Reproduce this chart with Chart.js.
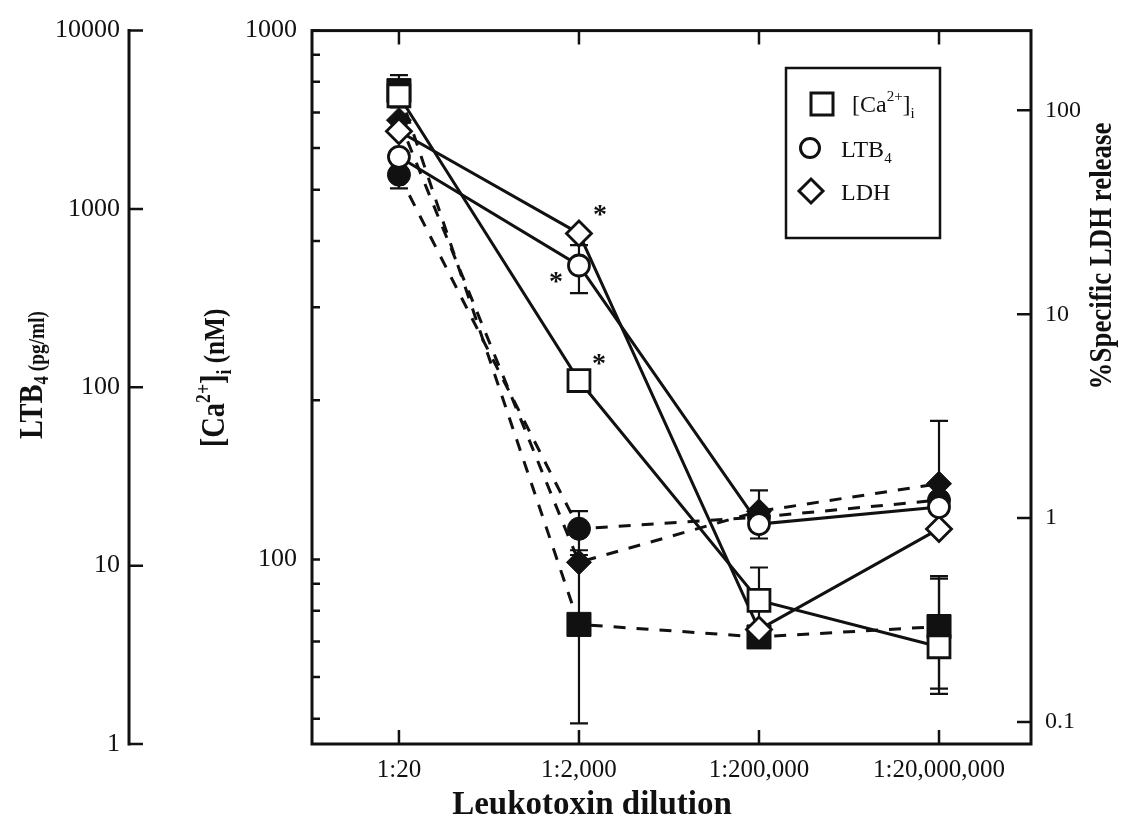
<!DOCTYPE html>
<html>
<head>
<meta charset="utf-8">
<title>Leukotoxin dilution</title>
<script src="https://cdn.jsdelivr.net/npm/chart.js@4.4.1/dist/chart.umd.min.js"></script>
<style>
  html, body { margin: 0; background: #fff; }
  #box { width: 1127px; height: 832px; }
</style>
</head>
<body>
<div id="box"><canvas id="chart" width="1127" height="832"></canvas></div>
<script>
// x categories
const dilutions = ["1:20", "1:2,000", "1:200,000", "1:20,000,000"];

// [Ca2+]i (nM) - open squares: leukotoxin, filled squares: control
const caLtx   = [753, 218, 83.7, 68.4];
const caLtxLo = [null, null, 70, 55.7];
const caLtxHi = [null, null, 96.6, 93];
const caCtl   = [770, 75.4, 71.4, 74.7];
const caCtlLo = [716, 49, null, 57];
const caCtlHi = [824, 102, null, 92];

// LTB4 (pg/ml)
const ltbLtx   = [1960, 482, 17.1, 21.3];
const ltbLtxLo = [null, 337, null, null];
const ltbLtxHi = [null, 627, null, null];
const ltbCtl   = [1556, 16.1, 18.7, 23.3];
const ltbCtlLo = [1303, 12.2, 14.2, null];
const ltbCtlHi = [1806, 20.2, 26.4, null];

// % specific LDH release
const ldhLtx   = [79, 24.9, 0.284, 0.885];
const ldhCtl   = [89.5, 0.607, 1.08, 1.475];
const ldhCtlLo = [null, null, null, 0.9];
const ldhCtlHi = [null, null, null, 3.0];

// axis ticks
const ltbTicks = [1, 10, 100, 1000, 10000];
const caTicks  = [50, 60, 70, 80, 90, 100, 200, 300, 400, 500, 600, 700, 800, 900, 1000];
const caLabels = [100, 1000];
const ldhTicks = [0.1, 1, 10, 100];

const ink = "#111";
const serif = "'Liberation Serif', 'DejaVu Serif', serif";
const pts = arr => arr.map((y, i) => ({ x: i, y }));

function series(label, data, axis, style, filled, r) {
  return {
    label, data: pts(data), yAxisID: axis,
    borderColor: ink, borderWidth: 3, borderDash: filled ? [12, 11] : [],
    pointStyle: style, pointRadius: r, pointBorderWidth: filled ? 1 : 2.8,
    pointBackgroundColor: filled ? ink : "#fff", pointBorderColor: ink,
    tension: 0, fill: false
  };
}

// error bars: [axis, values, lo, hi]
const errSets = [
  ["ca", caLtx, caLtxLo, caLtxHi], ["ca", caCtl, caCtlLo, caCtlHi],
  ["ltb", ltbLtx, ltbLtxLo, ltbLtxHi], ["ltb", ltbCtl, ltbCtlLo, ltbCtlHi],
  ["ldh", ldhCtl, ldhCtlLo, ldhCtlHi]
];

function richText(ctx, parts, cx, cy, angle, squeeze) {
  ctx.save();
  ctx.translate(cx, cy); ctx.rotate(angle); ctx.scale(squeeze, 1);
  ctx.fillStyle = ink; ctx.textAlign = "left"; ctx.textBaseline = "alphabetic";
  let w = 0;
  parts.forEach(p => { ctx.font = `bold ${p.size}px ${serif}`; p.w = ctx.measureText(p.t).width; w += p.w; });
  let x = -w / 2;
  parts.forEach(p => { ctx.font = `bold ${p.size}px ${serif}`; ctx.fillText(p.t, x, p.dy); x += p.w; });
  ctx.restore();
}

function marker(ctx, style, x, y, r) {
  ctx.beginPath();
  if (style === "rect") ctx.rect(x - r, y - r, 2 * r, 2 * r);
  else if (style === "circle") ctx.arc(x, y, r, 0, Math.PI * 2);
  else { ctx.moveTo(x, y - r); ctx.lineTo(x + r, y); ctx.lineTo(x, y + r); ctx.lineTo(x - r, y); ctx.closePath(); }
  ctx.fillStyle = "#fff"; ctx.fill();
  ctx.lineWidth = 3; ctx.strokeStyle = ink; ctx.stroke();
}

const errorBars = {
  id: "errorBars",
  beforeDatasetsDraw(chart) {
    const { ctx, scales } = chart;
    ctx.save();
    ctx.strokeStyle = ink; ctx.lineWidth = 2.2;
    errSets.forEach(([axis, vals, lo, hi]) => {
      const ys = scales[axis];
      vals.forEach((v, i) => {
        const x = scales.x.getPixelForValue(i);
        const y0 = ys.getPixelForValue(v);
        [lo[i], hi[i]].forEach(e => {
          if (e == null) return;
          const y1 = ys.getPixelForValue(e);
          ctx.beginPath(); ctx.moveTo(x, y0); ctx.lineTo(x, y1);
          ctx.moveTo(x - 9, y1); ctx.lineTo(x + 9, y1); ctx.stroke();
        });
      });
    });
    ctx.restore();
  }
};

const frame = {
  id: "frame",
  afterDraw(chart) {
    const { ctx, chartArea: a, scales } = chart;
    const ltb = scales.ltb;
    ctx.save();
    ctx.strokeStyle = ink; ctx.lineCap = "square";
    // plot box + outer LTB4 axis
    ctx.lineWidth = 3;
    ctx.strokeRect(a.left, a.top, a.right - a.left, a.bottom - a.top);
    ctx.beginPath(); ctx.moveTo(ltb.right, a.top); ctx.lineTo(ltb.right, a.bottom); ctx.stroke();
    ctx.lineCap = "butt"; ctx.lineWidth = 2.5;
    ctx.beginPath();
    dilutions.forEach((_, i) => {
      const x = scales.x.getPixelForValue(i);
      ctx.moveTo(x, a.bottom); ctx.lineTo(x, a.bottom - 14);
      ctx.moveTo(x, a.top); ctx.lineTo(x, a.top + 14);
    });
    caTicks.forEach(v => { const y = scales.ca.getPixelForValue(v); ctx.moveTo(a.left, y); ctx.lineTo(a.left + 8, y); });
    ldhTicks.forEach(v => { const y = scales.ldh.getPixelForValue(v); ctx.moveTo(a.right, y); ctx.lineTo(a.right - 14, y); });
    ltbTicks.forEach(v => { const y = ltb.getPixelForValue(v); ctx.moveTo(ltb.right, y); ctx.lineTo(ltb.right + 14, y); });
    ctx.stroke();

    // significance stars
    ctx.fillStyle = ink; ctx.font = `bold 28px ${serif}`;
    ctx.textAlign = "center"; ctx.textBaseline = "middle";
    const star = (axis, vals, i, dx, dy) =>
      ctx.fillText("*", scales.x.getPixelForValue(i) + dx, scales[axis].getPixelForValue(vals[i]) + dy);
    star("ldh", ldhLtx, 1, 21, -18);
    star("ltb", ltbLtx, 1, -23, 17);
    star("ca", caLtx, 1, 20, -16);

    // legend
    const lx = 786, ly = 68;
    ctx.lineWidth = 2.5; ctx.strokeRect(lx, ly, 154, 170);
    marker(ctx, "rect", lx + 36, ly + 36, 11);
    marker(ctx, "circle", lx + 24, ly + 80, 9.5);
    marker(ctx, "diamond", lx + 25, ly + 123, 12);
    ctx.textAlign = "left"; ctx.textBaseline = "alphabetic"; ctx.fillStyle = ink;
    const txt = (t, x, y, size) => { ctx.font = `${size}px ${serif}`; ctx.fillText(t, x, y); return x + ctx.measureText(t).width; };
    let x = txt("[Ca", lx + 66, ly + 44, 24);
    x = txt("2+", x, ly + 33, 15);
    x = txt("]", x, ly + 44, 24);
    txt("i", x, ly + 50, 15);
    x = txt("LTB", lx + 55, ly + 89, 24);
    txt("4", x, ly + 95, 15);
    txt("LDH", lx + 55, ly + 132, 24);

    // axis titles
    richText(ctx, [
      { t: "LTB", size: 34, dy: 0 }, { t: "4", size: 20, dy: 6 }, { t: " (pg/ml)", size: 23, dy: 2 }
    ], 42, 375, -Math.PI / 2, 0.84);
    richText(ctx, [
      { t: "[Ca", size: 34, dy: 0 }, { t: "2+", size: 21, dy: -14 }, { t: "]", size: 34, dy: 0 },
      { t: "i", size: 21, dy: 7 }, { t: " (nM)", size: 30, dy: 0 }
    ], 224, 378, -Math.PI / 2, 0.84);
    richText(ctx, [{ t: "%Specific LDH release", size: 32, dy: 0 }], 1111, 256, -Math.PI / 2, 0.84);
    richText(ctx, [{ t: "Leukotoxin dilution", size: 33, dy: 0 }], 592, 814, 0, 1);
    ctx.restore();
  }
};

const tickFont = size => ({ family: serif, size });

new Chart(document.getElementById("chart"), {
  type: "line",
  data: {
    datasets: [
      series("[Ca2+]i", caLtx, "ca", "rect", false, 15.5),
      series("LTB4", ltbLtx, "ltb", "circle", false, 10.5),
      series("LDH", ldhLtx, "ldh", "rectRot", false, 12.5),
      series("[Ca2+]i control", caCtl, "ca", "rect", true, 17),
      series("LTB4 control", ltbCtl, "ltb", "circle", true, 11.5),
      series("LDH control", ldhCtl, "ldh", "rectRot", true, 12.5)
    ]
  },
  options: {
    responsive: false, animation: false,
    layout: { padding: { top: 24, left: 0, right: 0, bottom: 0 } },
    plugins: { legend: { display: false }, tooltip: { enabled: false } },
    scales: {
      x: {
        type: "linear", min: -0.483, max: 3.511,
        afterBuildTicks: s => { s.ticks = dilutions.map((_, i) => ({ value: i })); },
        afterFit: s => { s.height = 88; },
        grid: { display: false, drawTicks: false }, border: { display: false },
        ticks: { color: ink, font: tickFont(25), padding: 11, maxRotation: 0, callback: v => dilutions[v] ?? "" }
      },
      ca: {
        type: "logarithmic", position: "left", weight: 0, min: 44.8, max: 1000,
        afterBuildTicks: s => { s.ticks = caTicks.map(v => ({ value: v })); },
        afterFit: s => { s.width = 183; },
        grid: { display: false, drawTicks: false }, border: { display: false },
        ticks: { color: ink, font: tickFont(26), padding: 15, autoSkip: false, callback: v => caLabels.includes(v) ? String(v) : "" }
      },
      ltb: {
        type: "logarithmic", position: "left", weight: 1, min: 1, max: 10000,
        afterBuildTicks: s => { s.ticks = ltbTicks.map(v => ({ value: v })); },
        afterFit: s => { s.width = 129; },
        grid: { display: false, drawTicks: false }, border: { display: false },
        ticks: { color: ink, font: tickFont(26), padding: 9, autoSkip: false, callback: v => String(v) }
      },
      ldh: {
        type: "logarithmic", position: "right", min: 0.078, max: 246,
        afterBuildTicks: s => { s.ticks = ldhTicks.map(v => ({ value: v })); },
        afterFit: s => { s.width = 96; },
        grid: { display: false, drawTicks: false }, border: { display: false },
        ticks: { color: ink, font: tickFont(24), padding: 14, autoSkip: false, callback: v => String(v) }
      }
    }
  },
  plugins: [errorBars, frame]
});
</script>
</body>
</html>
